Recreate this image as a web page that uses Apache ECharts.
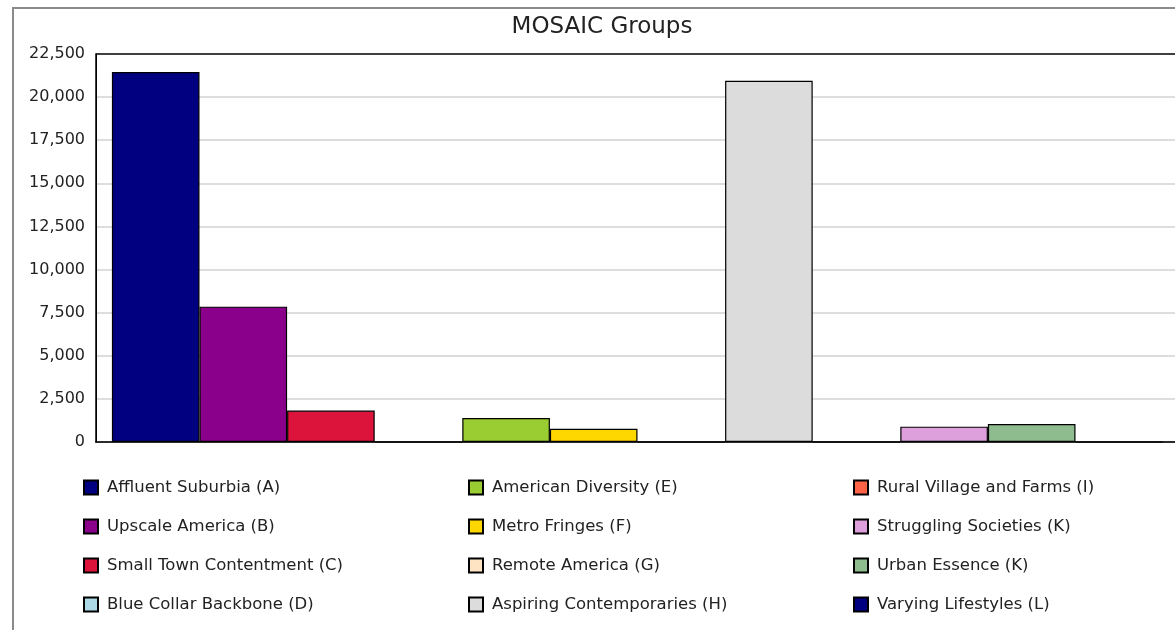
<!DOCTYPE html>
<html style="height: 100%">
<head>
    <meta charset="utf-8">
    <style type="text/css">
        .box{width: 1175px;height:630px;}
    </style>
</head>
<body style="height: 100%; margin: 0; background:#fff">
<div class="box" id="container"></div>
<script src="https://cdn.jsdelivr.net/npm/echarts@6/dist/echarts.min.js"></script>
<script type="text/javascript">
var groupNames = [
    'Affluent Suburbia (A)', 'Upscale America (B)', 'Small Town Contentment (C)', 'Blue Collar Backbone (D)',
    'American Diversity (E)', 'Metro Fringes (F)', 'Remote America (G)', 'Aspiring Contemporaries (H)',
    'Rural Village and Farms (I)', 'Struggling Societies (K)', 'Urban Essence (K)', 'Varying Lifestyles (L)'
];
var groupValues = [21450, 7850, 1820, 0, 1390, 770, 0, 20950, 0, 890, 1040, 0];
var groupColors = [
    '#000080', '#8b008b', '#dc143c', '#add8e6',
    '#9acd32', '#ffd700', '#ffe4c4', '#dcdcdc',
    '#ff6347', '#dda0dd', '#8fbc8f', '#000080'
];
var yTicks = { min: 0, max: 22500, step: 2500 };

var dom = document.getElementById("container");
var myChart = echarts.init(dom);

var series = [];
for (var i = 0; i < groupNames.length; i++) {
    series.push({
        name: groupNames[i],
        type: 'bar',
        data: [groupValues[i]],
        barWidth: 87.6,
        barGap: '0%',
        itemStyle: {
            color: groupColors[i],
            borderColor: '#000',
            borderWidth: 1.2
        }
    });
}

function legendCol(names, left) {
    return {
        orient: 'vertical',
        left: left,
        top: 479,
        padding: 0,
        itemWidth: 14,
        itemHeight: 14,
        itemGap: 22,
        icon: 'rect',
        data: names,
        textStyle: {
            fontFamily: 'DejaVu Sans',
            fontSize: 16.5,
            color: '#222',
            padding: [0, 0, 0, 4]
        }
    };
}

var option = {
    backgroundColor: '#fff',
    animation: false,
    title: {
        text: 'MOSAIC Groups',
        left: 602,
        top: 16,
        padding: 0,
        textAlign: 'center',
        textStyle: {
            fontFamily: 'DejaVu Sans',
            fontSize: 23,
            fontWeight: 'normal',
            color: '#222'
        }
    },
    legend: [
        legendCol(groupNames.slice(0, 4), 83),
        legendCol(groupNames.slice(4, 8), 468),
        legendCol(groupNames.slice(8, 12), 853)
    ],
    graphic: [{
        type: 'polyline',
        shape: { points: [[13, 640], [13, 8], [1200, 8]] },
        style: { stroke: '#8a8a8a', lineWidth: 2, fill: null }
    }],
    grid: {
        left: 96,
        top: 54,
        width: 1083,
        height: 388,
        outerBoundsMode: 'none',
        show: true,
        borderColor: '#000',
        borderWidth: 1.5,
        backgroundColor: '#fff'
    },
    xAxis: {
        type: 'category',
        data: [''],
        axisLine: { lineStyle: { color: '#000', width: 1.5 } },
        axisTick: { show: false },
        axisLabel: { show: false }
    },
    yAxis: {
        type: 'value',
        min: yTicks.min,
        max: yTicks.max,
        interval: yTicks.step,
        axisLine: { show: true, lineStyle: { color: '#000' } },
        axisTick: { show: false },
        splitLine: { showMaxLine: false, lineStyle: { color: '#d2d2d2', width: 1.5 } },
        axisLabel: {
            margin: 11,
            fontFamily: 'DejaVu Sans',
            fontSize: 16,
            color: '#222',
            formatter: function (v) { return v.toLocaleString('en-US'); }
        }
    },
    series: series
};
myChart.setOption(option);
</script>
</body>
</html>
